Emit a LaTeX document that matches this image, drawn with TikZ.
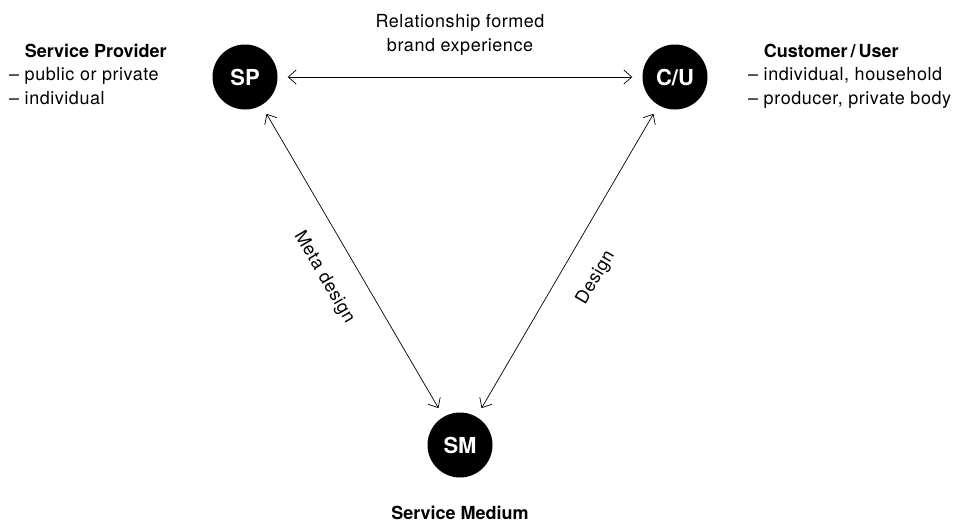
\documentclass[tikz,border=0pt]{standalone}
\usepackage{fontspec}
\setmainfont{TeX Gyre Heros}
\newfontfamily\lblfont{TeX Gyre Heros}[LetterSpace=3]
\usepackage{tikz}
\usetikzlibrary{arrows.meta}

\newcommand\kopf[1]{{\rmfamily\bfseries #1}}

\begin{document}
\begin{tikzpicture}[x=1pt, y=-1pt,
    akteur/.style={circle, fill=black, minimum size=65pt, inner sep=0pt,
                   text=white, font=\fontsize{22}{22}\selectfont\bfseries},
    beziehung/.style={{Straight Barb[length=8pt,width=14pt]}-{Straight Barb[length=8pt,width=14pt]},
                      line width=0.7pt, shorten <=10pt, shorten >=10pt},
    lbl/.style={font=\fontsize{18}{23.5}\selectfont\lblfont, inner sep=0pt}
    ]
    % Rahmen
    \useasboundingbox (0,0) rectangle (958,523);

    % Die drei Akteure
    \node[akteur] (SP) at (245,77) {SP};
    \node[akteur] (CU) at (675,77) {C/U};
    \node[akteur] (SM) at (460,445) {SM};

    % Beziehungen zwischen den Akteuren
    \draw[beziehung] (SP) -- (CU);
    \draw[beziehung] (SP) -- node[midway, sloped, below=24pt, lbl] (meta) {Meta design} (SM);
    \draw[beziehung] (CU) -- node[midway, sloped, below=24pt, lbl] (design) {Design} (SM);

    % Beschriftung oben
    \node[lbl, align=center, anchor=base] (rel) at (460,51) {Relationship formed\\brand experience};

    % Beschreibung der Akteure (Anker auf der letzten Zeile)
    \node[lbl, align=left, anchor=base west] (SPtext) at (9,104)
        {\hphantom{– }\kopf{Service Provider}\\– public or private\\– individual};
    \node[lbl, align=left, anchor=base west] (CUtext) at (748,104)
        {\hphantom{– }\kopf{Customer\,/\,User}\\– individual, household\\– producer, private body};
    \node[lbl, anchor=base] (SMtext) at (460,519) {\kopf{Service Medium}};
\end{tikzpicture}
\end{document}
